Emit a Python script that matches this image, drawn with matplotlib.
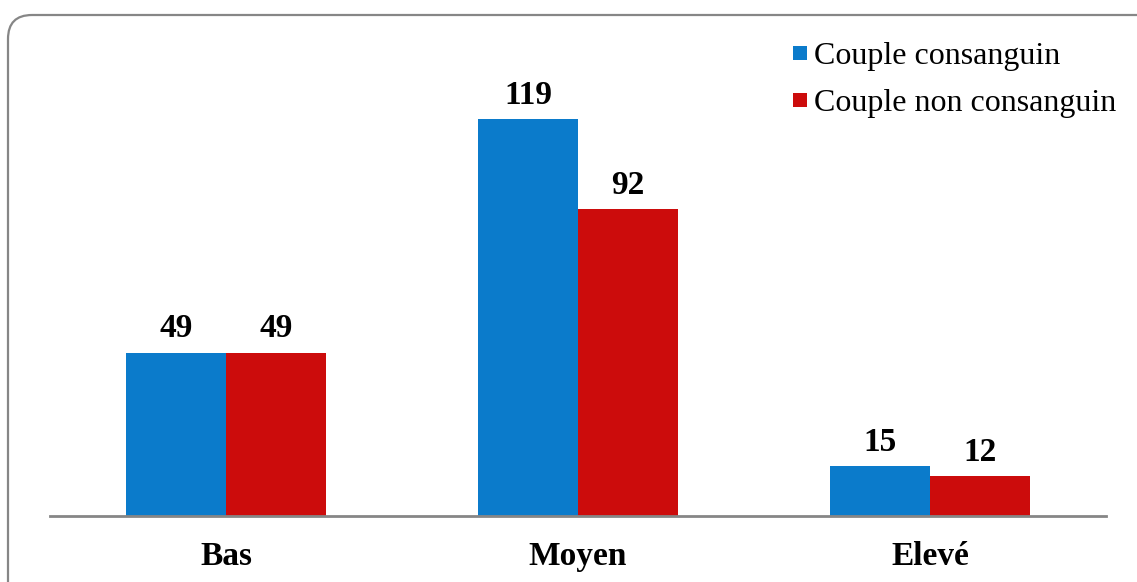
import matplotlib
matplotlib.use("Agg")
import matplotlib.pyplot as plt
from matplotlib.patches import FancyBboxPatch
from matplotlib.lines import Line2D
from matplotlib.transforms import IdentityTransform
import numpy as np

categories = ["Bas", "Moyen", "Elevé"]
series_names = ["Couple consanguin", "Couple non consanguin"]
consanguin = [49, 119, 15]
non_consanguin = [49, 92, 12]
colors = ["#0B7BCB", "#CC0C0C"]

plt.rcParams['font.family'] = ['Liberation Serif', 'DejaVu Serif']

W, H = 1137, 582
fig = plt.figure(figsize=(W / 100, H / 100), dpi=100)
ax = fig.add_axes([50 / W, 66 / H, 1056 / W, 467 / H])

x = np.arange(len(categories))
bw = 0.284
for i, (vals, c) in enumerate(zip([consanguin, non_consanguin], colors)):
    pos = x + (i - 0.5) * bw
    ax.bar(pos, vals, width=bw, color=c, linewidth=0, zorder=2)
    for p, v in zip(pos, vals):
        ax.annotate(str(v), (p, v), xytext=(0, 6), textcoords="offset points",
                    ha="center", va="bottom", fontsize=24, fontweight="bold")

ax.set_xlim(-0.5, 2.5)
ax.set_ylim(0, 140)
ax.set_xticks(x)
ax.set_xticklabels(categories, fontsize=24, fontweight="bold")
ax.tick_params(axis="x", length=0, pad=18)
ax.set_yticks([])
for s in ["top", "right", "left"]:
    ax.spines[s].set_visible(False)
ax.spines["bottom"].set_color("#868686")
ax.spines["bottom"].set_linewidth(2)
ax.spines["bottom"].set_zorder(3)

handles = [Line2D([], [], marker="s", linestyle="none", markersize=10.5,
                  markerfacecolor=c, markeredgewidth=0) for c in colors]
fig.legend(handles, series_names, loc="upper left",
           bbox_to_anchor=(790 / W, 1 - 42 / H), frameon=False,
           fontsize=23, handlelength=0.6, handletextpad=0.15,
           labelspacing=0.55, borderaxespad=0, borderpad=0)

border = FancyBboxPatch((8, -40), 1180, H - 15 + 40,
                        boxstyle="round,pad=0,rounding_size=24",
                        transform=IdentityTransform(), facecolor="none",
                        edgecolor="#868686", linewidth=1.6)
fig.patches.append(border)

fig.savefig("out.png", dpi=100)
